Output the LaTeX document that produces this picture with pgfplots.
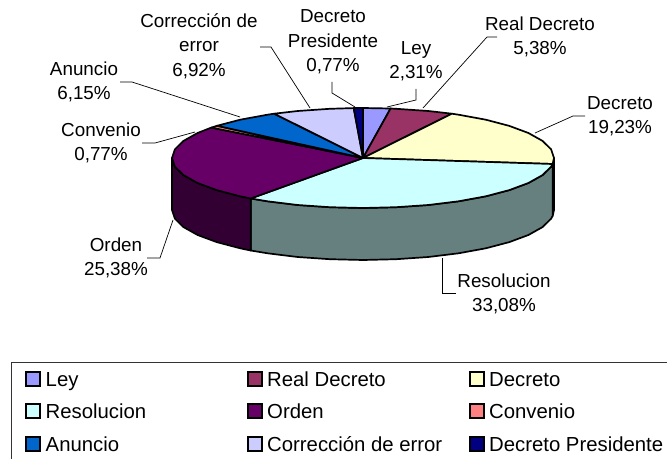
\documentclass[border=0pt]{standalone}
\usepackage{pgfplots}
\pgfplotsset{compat=1.18}
\usepackage{fontspec}
\setmainfont{Liberation Sans}
\definecolor{cLey}{HTML}{9999FF}
\definecolor{cRD}{HTML}{993366}
\definecolor{cDec}{HTML}{FFFFCC}
\definecolor{cRes}{HTML}{CCFFFF}
\definecolor{cOrd}{HTML}{660066}
\definecolor{cCon}{HTML}{FF8080}
\definecolor{cAnu}{HTML}{0066CC}
\definecolor{cCor}{HTML}{CCCCFF}
\definecolor{cDP}{HTML}{000080}
\definecolor{sDec}{HTML}{808066}
\definecolor{sRes}{HTML}{668080}
\definecolor{sOrd}{HTML}{330033}
\tikzset{
  slice/.style={draw=black, line width=1.7bp, line join=round},
  lead/.style={draw=black, line width=0.7bp},
  swatch/.style={draw=black, line width=1.8bp},
  lab/.style={font=\fontsize{18.9}{24.5}\selectfont, align=center, anchor=center, inner sep=0pt},
  leg/.style={font=\fontsize{20.4}{24}\selectfont, anchor=base west, inner sep=0pt},
}
\begin{document}
\begin{tikzpicture}
\useasboundingbox (0,0) rectangle (667bp,459bp);
\begin{axis}[
  at={(0,0)}, anchor=south west,
  scale only axis, width=667bp, height=459bp,
  xmin=0, xmax=667, ymin=0, ymax=459, y dir=reverse,
  axis lines=none, clip=true,
]
% side walls
\addplot[slice, fill=sDec] coordinates {(554,158) (552.6,164) (552.6,216) (554,210)} -- cycle;
\addplot[slice, fill=sRes] coordinates {(552.6,164) (551.1,166.7) (542.5,175.1) (528.4,183) (509.3,190.1) (485.8,196.3) (458.5,201.3) (428.3,205) (396.2,207.2) (363,208) (329.8,207.2) (297.7,205) (267.5,201.3) (250.7,198.5) (250.7,250.5) (267.5,253.3) (297.7,257) (329.8,259.2) (363,260) (396.2,259.2) (428.3,257) (458.5,253.3) (485.8,248.3) (509.3,242.1) (528.4,235) (542.5,227.1) (551.1,218.7) (552.6,216)} -- cycle;
\addplot[slice, fill=sOrd] coordinates {(250.7,198.5) (240.2,196.3) (216.7,190.1) (197.6,183) (183.5,175.1) (174.9,166.7) (172,158) (172,210) (174.9,218.7) (183.5,227.1) (197.6,235) (216.7,242.1) (240.2,248.3) (250.7,250.5)} -- cycle;
% top slices
\addplot[slice, fill=cLey] coordinates {(363,158) (363,108) (390.6,108.5)} -- cycle;
\addplot[slice, fill=cRD] coordinates {(363,158) (390.6,108.5) (396.2,108.8) (428.3,111) (451.8,113.7)} -- cycle;
\addplot[slice, fill=cDec] coordinates {(363,158) (451.8,113.7) (458.5,114.7) (485.8,119.7) (509.3,125.9) (528.4,133) (542.5,140.9) (551.1,149.3) (554,158) (552.6,164)} -- cycle;
\addplot[slice, fill=cRes] coordinates {(363,158) (552.6,164) (551.1,166.7) (542.5,175.1) (528.4,183) (509.3,190.1) (485.8,196.3) (458.5,201.3) (428.3,205) (396.2,207.2) (363,208) (329.8,207.2) (297.7,205) (267.5,201.3) (250.7,198.5)} -- cycle;
\addplot[slice, fill=cOrd] coordinates {(363,158) (250.7,198.5) (240.2,196.3) (216.7,190.1) (197.6,183) (183.5,175.1) (174.9,166.7) (172,158) (174.9,149.3) (183.5,140.9) (197.6,133) (211.3,127.6)} -- cycle;
\addplot[slice, fill=cCon] coordinates {(363,158) (211.3,127.6) (217,125.8)} -- cycle;
\addplot[slice, fill=cAnu] coordinates {(363,158) (217,125.8) (240.2,119.7) (267.5,114.7) (274.2,113.7)} -- cycle;
\addplot[slice, fill=cCor] coordinates {(363,158) (274.2,113.7) (297.7,111) (329.8,108.8) (353.7,108.1)} -- cycle;
\addplot[slice, fill=cDP] coordinates {(363,158) (353.7,108.1) (363,108)} -- cycle;
% leader lines
\addplot[lead] coordinates {(387,107) (416,100) (416,89)};
\addplot[lead] coordinates {(423,108) (487,37) (497,37)};
\addplot[lead] coordinates {(535,133) (573,116) (585,116)};
\addplot[lead] coordinates {(442,258) (442,293) (456,293)};
\addplot[lead] coordinates {(173,220) (160,258) (147,258)};
\addplot[lead] coordinates {(195,132) (155,143) (142,143)};
\addplot[lead] coordinates {(240,117) (132,82) (120,82)};
\addplot[lead] coordinates {(310,108) (271,47) (260,47)};
\addplot[lead] coordinates {(355,107) (332,93) (332,82)};
% labels
\node[lab] at (axis cs:416,61) {Ley\\2,31\%};
\node[lab] at (axis cs:540,37) {Real Decreto\\5,38\%};
\node[lab] at (axis cs:620,116.5) {Decreto\\19,23\%};
\node[lab] at (axis cs:504,294) {Resolucion\\33,08\%};
\node[lab] at (axis cs:116,258) {Orden\\25,38\%};
\node[lab] at (axis cs:101,143) {Convenio\\0,77\%};
\node[lab] at (axis cs:84,82) {Anuncio\\6,15\%};
\node[lab] at (axis cs:199,46) {Corrección de\\error\\6,92\%};
\node[lab] at (axis cs:333,42) {Decreto\\Presidente\\0,77\%};
% legend box
\addplot[draw=black!80, line width=0.9bp] coordinates {(11,459) (11,362) (667,362)};
\addplot[swatch, fill=cLey] coordinates {(26,372) (40,372) (40,386) (26,386)} -- cycle;
\addplot[swatch, fill=cRD] coordinates {(248,372) (262,372) (262,386) (248,386)} -- cycle;
\addplot[swatch, fill=cDec] coordinates {(470,372) (484,372) (484,386) (470,386)} -- cycle;
\addplot[swatch, fill=cRes] coordinates {(26,404) (40,404) (40,418) (26,418)} -- cycle;
\addplot[swatch, fill=cOrd] coordinates {(248,404) (262,404) (262,418) (248,418)} -- cycle;
\addplot[swatch, fill=cCon] coordinates {(470,404) (484,404) (484,418) (470,418)} -- cycle;
\addplot[swatch, fill=cAnu] coordinates {(26,437) (40,437) (40,451) (26,451)} -- cycle;
\addplot[swatch, fill=cCor] coordinates {(248,437) (262,437) (262,451) (248,451)} -- cycle;
\addplot[swatch, fill=cDP] coordinates {(470,437) (484,437) (484,451) (470,451)} -- cycle;
\node[leg] at (axis cs:45.5,386) {Ley};
\node[leg] at (axis cs:267,386) {Real Decreto};
\node[leg] at (axis cs:489,386) {Decreto};
\node[leg] at (axis cs:45.5,418.5) {Resolucion};
\node[leg] at (axis cs:267,418.5) {Orden};
\node[leg] at (axis cs:489,418.5) {Convenio};
\node[leg] at (axis cs:45.5,451) {Anuncio};
\node[leg] at (axis cs:267,451) {Corrección de error};
\node[leg] at (axis cs:489,451) {Decreto Presidente};
\end{axis}
\end{tikzpicture}
\end{document}
